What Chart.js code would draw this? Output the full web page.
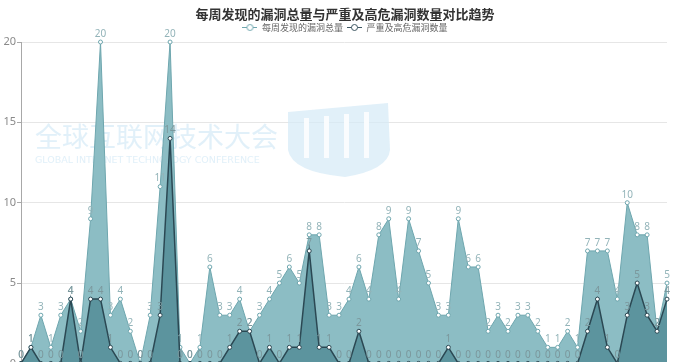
<!DOCTYPE html>
<html>
<head>
<meta charset="utf-8">
<script src="https://cdn.jsdelivr.net/npm/chart.js@4.4.1/dist/chart.umd.min.js"></script>
<style>
  html, body { margin: 0; padding: 0; background: #fff; overflow: hidden; }
  #wrap { position: relative; width: 673px; height: 362px; overflow: hidden; }
  #trend { position: absolute; left: 0; top: 0; }
</style>
</head>
<body>
<div id="wrap"><canvas id="trend" width="690" height="371"></canvas></div>
<script>
// weekly counts, oldest week first
const totalFound = [0, 1, 3, 1, 3, 4, 2, 9, 20, 3, 4, 2, 0, 3, 11, 20, 1, 0, 1, 6, 3, 3, 4, 2, 3, 4, 5, 6, 5, 8, 8, 3, 3, 4, 6, 4, 8, 9, 4, 9, 7, 5, 3, 3, 9, 6, 6, 2, 3, 2, 3, 3, 2, 1, 1, 2, 1, 7, 7, 7, 4, 10, 8, 8, 2, 5];
const seriousFound = [0, 1, 0, 0, 0, 4, 0, 4, 4, 1, 0, 0, 0, 0, 3, 14, 0, 0, 0, 0, 0, 1, 2, 2, 0, 1, 0, 1, 1, 7, 1, 1, 0, 0, 2, 0, 0, 0, 0, 0, 0, 0, 0, 1, 0, 0, 0, 0, 0, 0, 0, 0, 0, 0, 0, 0, 0, 2, 4, 1, 0, 3, 5, 3, 2, 4];
const seriesNames = ['每周发现的漏洞总量', '严重及高危漏洞数量'];
const yTicks = [0, 5, 10, 15, 20];
const weeks = totalFound.map((_, i) => `W${i + 1}`);

const chartTitle = '每周发现的漏洞总量与严重及高危漏洞数量对比趋势';

(() => {
  const cjk = '"Noto Sans CJK SC", "Noto Sans", sans-serif';

  // little "-o-" swatch for the legend
  const legendMark = (color) => {
    const c = document.createElement('canvas');
    c.width = 15;
    c.height = 9;
    const g = c.getContext('2d');
    g.strokeStyle = color;
    g.lineWidth = 1;
    g.beginPath();
    g.moveTo(0, 4.5);
    g.lineTo(15, 4.5);
    g.stroke();
    g.beginPath();
    g.arc(7.5, 4.5, 3, 0, Math.PI * 2);
    g.fillStyle = '#fff';
    g.fill();
    g.stroke();
    return c;
  };

  // faint conference watermark behind the areas
  const watermark = {
    id: 'watermark',
    beforeDatasetsDraw(chart) {
      const { ctx } = chart;
      ctx.save();
      ctx.fillStyle = 'rgba(212, 233, 246, 0.7)';
      ctx.font = `27px ${cjk}`;
      ctx.textBaseline = 'alphabetic';
      ctx.fillText('全球互联网技术大会', 35, 147, 245);
      ctx.font = '9.5px "DejaVu Sans", sans-serif';
      ctx.fillText('GLOBAL INTERNET TECHNOLOGY CONFERENCE', 35, 163, 245);

      ctx.beginPath();
      ctx.moveTo(288, 112);
      ctx.lineTo(388, 103);
      ctx.lineTo(390, 150);
      ctx.quadraticCurveTo(388, 170, 345, 177);
      ctx.quadraticCurveTo(292, 172, 288, 150);
      ctx.closePath();
      ctx.fill();
      ctx.fillStyle = 'rgba(255, 255, 255, 0.85)';
      [[304, 118], [324, 116], [344, 114], [364, 112]].forEach(([x, y]) => {
        ctx.fillRect(x, y, 5, 158 - y);
      });
      ctx.restore();
    }
  };

  // value text above every point
  const valueLabels = {
    id: 'valueLabels',
    afterDatasetsDraw(chart) {
      const { ctx } = chart;
      ctx.save();
      ctx.font = '10px "Noto Sans", sans-serif';
      ctx.textAlign = 'center';
      ctx.textBaseline = 'bottom';
      chart.data.datasets.forEach((ds, i) => {
        ctx.fillStyle = ds.labelColor;
        chart.getDatasetMeta(i).data.forEach((pt, j) => {
          ctx.fillText(ds.data[j], pt.x, pt.y - 3);
        });
      });
      ctx.restore();
    }
  };

  const canvasCtx = document.getElementById('trend').getContext('2d');
  new Chart(canvasCtx, {
    type: 'line',
    data: {
      labels: weeks,
      datasets: [{
        label: seriesNames[0],
        data: totalFound,
        order: 2,
        fill: 'origin',
        backgroundColor: '#8cbdc4',
        borderColor: '#6ea6ae',
        borderWidth: 1,
        pointRadius: 2,
        pointBorderWidth: 1,
        pointBackgroundColor: '#fff',
        pointBorderColor: '#6ea6ae',
        labelColor: '#93b4b9',
        legendColor: '#6ea6ae',
        clip: false
      }, {
        label: seriesNames[1],
        data: seriousFound,
        order: 1,
        fill: 'origin',
        backgroundColor: '#5c949e',
        borderColor: '#2b4853',
        borderWidth: 1.5,
        pointRadius: 2,
        pointBorderWidth: 1,
        pointBackgroundColor: '#fff',
        pointBorderColor: '#2b4853',
        labelColor: '#7b979c',
        legendColor: '#3d5661',
        clip: false
      }]
    },
    options: {
      responsive: false,
      animation: false,
      devicePixelRatio: 1,
      layout: { padding: 0 },
      elements: { line: { tension: 0 } },
      scales: {
        x: { display: false },
        y: {
          min: 0,
          max: 20,
          afterBuildTicks: (scale) => {
            scale.ticks = yTicks.map((value) => ({ value }));
          },
          afterFit: (scale) => {
            scale.width = 21;
          },
          border: { color: '#a8a8a8', width: 1 },
          grid: { color: '#e6e6e6', tickColor: '#a8a8a8', tickLength: 4 },
          ticks: {
            padding: 1,
            color: '#8a8a8a',
            font: { size: 11, family: '"Noto Sans", sans-serif' }
          }
        },
        // empty strip on the right so the plot stops short of the edge
        spacer: {
          position: 'right',
          grid: { display: false, drawTicks: false },
          border: { display: false },
          ticks: { display: false },
          afterFit: (scale) => {
            scale.width = 23;
          }
        }
      },
      plugins: {
        title: {
          display: true,
          text: chartTitle,
          color: '#333',
          font: { size: 13, weight: 'bold', family: cjk },
          padding: { top: 6.5, bottom: -3.1 }
        },
        legend: {
          display: true,
          labels: {
            usePointStyle: true,
            pointStyleWidth: 15,
            boxHeight: 8,
            padding: 4,
            color: '#666',
            font: { size: 9, family: cjk },
            sort: (a, b) => a.datasetIndex - b.datasetIndex,
            generateLabels: (chart) => Chart.defaults.plugins.legend.labels.generateLabels(chart).map((item) => ({
              ...item,
              pointStyle: legendMark(chart.data.datasets[item.datasetIndex].legendColor)
            }))
          }
        },
        tooltip: { enabled: false }
      }
    },
    plugins: [watermark, valueLabels]
  });
})();
</script>
</body>
</html>
